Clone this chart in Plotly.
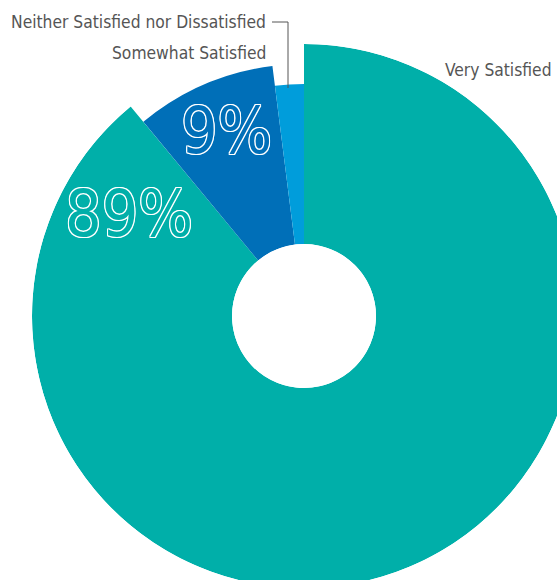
import plotly.graph_objects as go

# ---- data ----
categories = ["Very Satisfied", "Somewhat Satisfied", "Neither Satisfied nor Dissatisfied"]
values = [89, 9, 2]
pct_labels = ["89%", "9%"]

# ---- style ----
colors = ["#00AFA9", "#006FB8", "#009DDB"]
radius_scale = [1.0, 0.9, 0.8]
W, H = 600, 600
CX, CY, R, HOLE = 304, 316, 272, 72
label_color = "#555555"
label_font = "Liberation Sans Narrow, DejaVu Sans Condensed, Arial Narrow, sans-serif"
pct_font = "DejaVu Sans Condensed, Liberation Sans Narrow, sans-serif"

total = sum(values)
widths = [v / total * 360 for v in values]
starts = []
acc = 0
for w in widths:
    starts.append(acc)
    acc += w
centers = [s + w / 2 for s, w in zip(starts, widths)]

def px(x):
    return x / W

def py(y):
    return 1 - y / H

fig = go.Figure()
fig.add_trace(go.Barpolar(
    r=radius_scale, theta=centers, width=widths,
    marker=dict(color=colors, line=dict(width=0)),
    hoverinfo="skip", showlegend=False,
))

shadow = ", ".join(f"{a}px {b}px 0 #ffffff" for a, b in
                   [(1, 0), (-1, 0), (0, 1), (0, -1), (1, 1), (-1, -1), (1, -1), (-1, 1)])
label_pos = [(0.638, 298.8), (0.614, centers[1])]
for (rr, th), txt, col in zip(label_pos, pct_labels, colors[:2]):
    fig.add_trace(go.Scatterpolar(
        r=[rr], theta=[th], mode="text", text=[txt],
        textposition="middle center",
        textfont=dict(family=pct_font, size=64, color=col, shadow=shadow, weight=300),
        hoverinfo="skip", showlegend=False,
    ))

fig.update_layout(
    width=W, height=H,
    margin=dict(l=0, r=0, t=0, b=0),
    paper_bgcolor="white",
    plot_bgcolor="white",
    polar=dict(
        domain=dict(x=[px(CX - R), px(CX + R)], y=[py(CY + R), py(CY - R)]),
        hole=HOLE / R,
        bgcolor="rgba(0,0,0,0)",
        angularaxis=dict(rotation=90, direction="clockwise", visible=False,
                         showgrid=False, showline=False, showticklabels=False, ticks=""),
        radialaxis=dict(range=[0, 1], visible=False, showgrid=False,
                        showline=False, showticklabels=False, ticks=""),
    ),
)

label_xy = [(554, 70), (268, 53), (268, 22)]
for (x, y), name in zip(label_xy, categories):
    fig.add_annotation(x=px(x), y=py(y), xref="paper", yref="paper",
                       text=name, showarrow=False, xanchor="right", yanchor="middle",
                       font=dict(family=label_font, size=17.3, color=label_color))

fig.add_shape(type="path", xref="paper", yref="paper",
              path=f"M {px(272)} {py(22)} L {px(288)} {py(22)} L {px(288)} {py(88)}",
              line=dict(color=label_color, width=1))

fig.write_html("out.html",
               config={"displayModeBar": False},
               post_script="document.documentElement.style.overflow='hidden';"
                           "document.body.style.overflow='hidden';"
                           "document.body.style.margin='0';")
